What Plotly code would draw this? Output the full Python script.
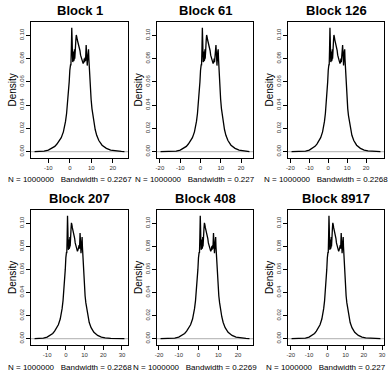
import plotly.graph_objects as go

# ---------------- data ----------------
blocks = ["Block 1", "Block 61", "Block 126", "Block 207", "Block 408", "Block 8917"]
bandwidths = ["0.2267", "0.227", "0.2268", "0.2268", "0.2269", "0.227"]
n_obs = 1000000
# data extent of each density estimate (min - 3bw, max + 3bw)
x_min = [-16.4, -19.7, -19.4, -16.7, -19.2, -19.6]
x_max = [25.4, 24.1, 27.6, 31.3, 25.8, 29.1]

dens_x = [-14, -12, -10, -8, -7, -6, -5, -4, -3, -2.5, -2, -1.5, -1, -0.6, -0.3, 0,
          0.2, 0.35, 0.5, 0.7, 0.9, 1.05, 1.2, 1.35, 1.5, 1.6, 1.75, 1.9, 2.0, 2.15,
          2.3, 2.5, 2.8, 3.0, 3.2, 3.5, 3.8, 4.3, 4.7, 5.0, 5.4, 5.8, 6.2, 6.5, 6.7,
          6.9, 7.1, 7.3, 7.6, 7.8, 8.1, 8.3, 8.5, 8.7, 8.85, 9.05, 9.3, 9.6, 9.9,
          10.3, 10.7, 11.2, 11.8, 12.5, 13.5, 15, 17, 19, 21, 24]
dens_y = [0.0002, 0.0005, 0.0013, 0.003, 0.0045, 0.0065, 0.009, 0.012, 0.017, 0.021,
          0.026, 0.033, 0.042, 0.051, 0.060, 0.070,
          0.073, 0.075, 0.074, 0.088, 0.1065, 0.097, 0.085, 0.077, 0.079, 0.086,
          0.078, 0.083, 0.079, 0.088,
          0.080, 0.086, 0.096, 0.1003, 0.099, 0.096, 0.094, 0.092, 0.087, 0.083,
          0.080, 0.077, 0.0757, 0.077, 0.080,
          0.077, 0.081, 0.078, 0.0916, 0.085, 0.074, 0.080, 0.086, 0.088, 0.080,
          0.072, 0.062, 0.053, 0.045,
          0.037, 0.031, 0.025, 0.019, 0.014, 0.0095, 0.0055, 0.0028, 0.0013, 0.0006,
          0.0002]
ytick_vals = [0.00, 0.02, 0.04, 0.06, 0.08, 0.10]
ytick_text = ["0.00", "0.02", "0.04", "0.06", "0.08", "0.10"]
xtick_vals = [-30, -20, -10, 0, 10, 20, 30]

# ---------------- layout geometry (pixels) ----------------
W, H = 391, 374
col_px = [(31, 128), (157, 253), (288, 384)]
row_px = [(22, 158), (210, 345)]
title_y = [10.5, 198]
xlab_y = [180, 367]

REG = "Liberation Sans, Arial, sans-serif"

fig = go.Figure()
annotations = []
shapes = []

for i, name in enumerate(blocks):
    r, c = divmod(i, 3)
    k = i + 1
    xs = "" if k == 1 else str(k)
    lo, hi = x_min[i], x_max[i]
    px = [lo] + [v for v in dens_x if lo < v < hi] + [hi]
    py = [0.00003] + [dens_y[j] for j, v in enumerate(dens_x) if lo < v < hi] + [0.00003]
    fig.add_trace(go.Scatter(x=px, y=py, mode="lines",
                             line=dict(color="black", width=1.3),
                             xaxis="x" + xs, yaxis="y" + xs,
                             showlegend=False, hoverinfo="skip"))
    w = hi - lo
    xr = [lo - 0.04 * w, hi + 0.04 * w]
    yr = [-0.0055, 0.1115]
    x0, x1 = col_px[c]
    y0, y1 = row_px[r]
    axis_common = dict(showline=True, mirror=True, linecolor="black", linewidth=1,
                       ticks="outside", ticklen=4, tickwidth=1, tickcolor="black",
                       showgrid=False, zeroline=False, automargin=False)
    fig.update_layout(**{
        "xaxis" + xs: dict(domain=[x0 / W, x1 / W], range=xr, anchor="y" + xs,
                           tickvals=xtick_vals, ticktext=[str(v) for v in xtick_vals],
                           tickfont=dict(family=REG, size=6, color="#333"),
                           **axis_common),
        "yaxis" + xs: dict(domain=[1 - y1 / H, 1 - y0 / H], range=yr, anchor="x" + xs,
                           tickvals=ytick_vals, ticktext=ytick_text, tickangle=-90,
                           tickfont=dict(family=REG, size=6, color="#333"),
                           **axis_common),
    })
    shapes.append(dict(type="line", xref="x" + xs + " domain", x0=0, x1=1,
                       yref="y" + xs, y0=0, y1=0,
                       line=dict(color="#bebebe", width=1.2), layer="below"))
    cx = (x0 + x1) / 2 / W
    annotations.append(dict(text="<b>" + name + "</b>", x=cx, y=1 - title_y[r] / H,
                            xref="paper", yref="paper", showarrow=False,
                            xanchor="center", yanchor="middle",
                            font=dict(family=REG, size=13, color="black")))
    annotations.append(dict(text="N = %d   Bandwidth = %s" % (n_obs, bandwidths[i]),
                            x=((x0 + x1) / 2 - 10) / W, y=1 - xlab_y[r] / H,
                            xref="paper", yref="paper",
                            showarrow=False, xanchor="center", yanchor="middle",
                            font=dict(family=REG, size=8, color="black")))
    annotations.append(dict(text="Density", x=(x0 - 18.5) / W,
                            y=1 - (y0 + y1) / 2 / H, xref="paper", yref="paper",
                            showarrow=False, textangle=-90,
                            xanchor="center", yanchor="middle",
                            font=dict(family=REG, size=10, color="black")))

fig.update_layout(width=W, height=H, margin=dict(l=0, r=0, t=0, b=0),
                  paper_bgcolor="white", plot_bgcolor="white",
                  annotations=annotations, shapes=shapes)
fig.write_html("out.html", config={"displayModeBar": False},
               post_script="document.body.style.margin='0';"
                           "document.body.style.padding='0';"
                           "document.body.style.overflow='hidden';")
